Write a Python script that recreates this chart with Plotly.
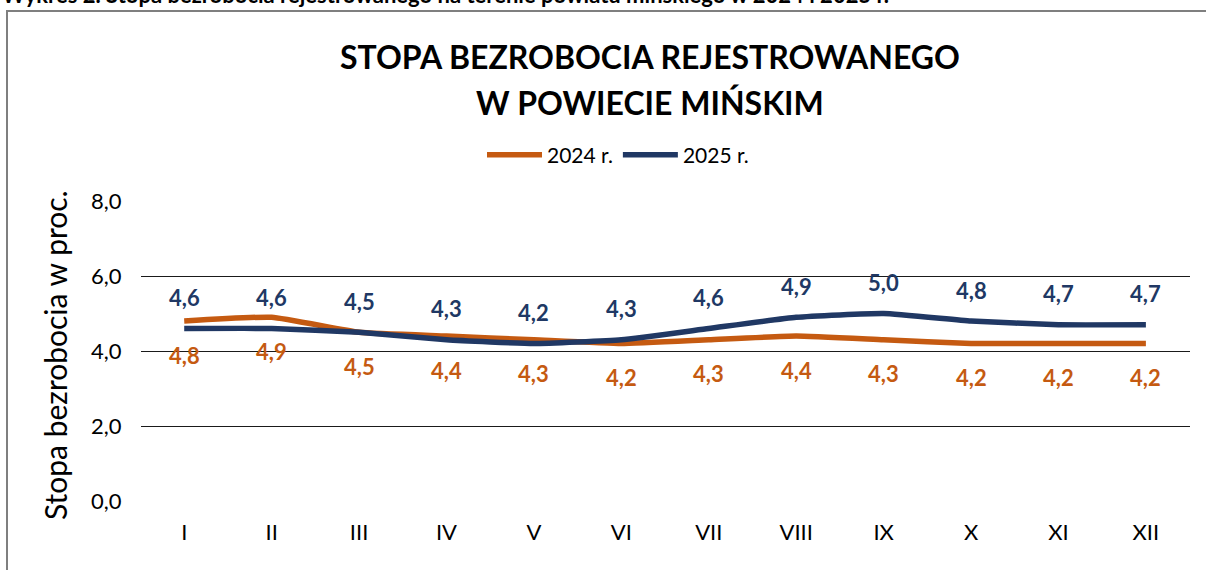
import plotly.graph_objects as go

months = ["I", "II", "III", "IV", "V", "VI", "VII", "VIII", "IX", "X", "XI", "XII"]
rate_2024 = [4.8, 4.9, 4.5, 4.4, 4.3, 4.2, 4.3, 4.4, 4.3, 4.2, 4.2, 4.2]
rate_2025 = [4.6, 4.6, 4.5, 4.3, 4.2, 4.3, 4.6, 4.9, 5.0, 4.8, 4.7, 4.7]
y_ticks = [0, 2, 4, 6, 8]

W, H = 1206, 570
C24 = "#C55A11"
C25 = "#203864"
FONT = "Lato"

def px_x(p):
    return p / W

def px_y(p):
    return 1 - p / H

fig = go.Figure()
fig.add_trace(go.Scatter(x=months, y=rate_2024, name="2024 r.", mode="lines",
                         line=dict(color=C24, width=5.5, shape="spline", smoothing=0.4)))
fig.add_trace(go.Scatter(x=months, y=rate_2025, name="2025 r.", mode="lines",
                         line=dict(color=C25, width=5.5, shape="spline", smoothing=0.4)))

annotations = []
for m, v in zip(months, rate_2025):
    annotations.append(dict(x=m, y=v, xref="x", yref="y", text=f"{v:.1f}".replace(".", ","),
                            showarrow=False, yshift=31, xanchor="center", yanchor="middle",
                            font=dict(family=FONT, size=22, color=C25, weight="bold")))
for m, v in zip(months, rate_2024):
    annotations.append(dict(x=m, y=v, xref="x", yref="y", text=f"{v:.1f}".replace(".", ","),
                            showarrow=False, yshift=-34, xanchor="center", yanchor="middle",
                            font=dict(family=FONT, size=22, color=C24, weight="bold")))

annotations.append(dict(x=px_x(650), y=px_y(57), xref="paper", yref="paper",
                        xanchor="center", yanchor="middle",
                        text="STOPA BEZROBOCIA REJESTROWANEGO", showarrow=False,
                        font=dict(family=FONT, size=32, color="#000", weight="bold")))
annotations.append(dict(x=px_x(650), y=px_y(102), xref="paper", yref="paper",
                        xanchor="center", yanchor="middle",
                        text="W POWIECIE MIŃSKIM", showarrow=False,
                        font=dict(family=FONT, size=32, color="#000", weight="bold")))
annotations.append(dict(x=px_x(55), y=px_y(355), xref="paper", yref="paper",
                        xanchor="center", yanchor="middle",
                        text="Stopa bezrobocia w proc.", showarrow=False, textangle=-90,
                        font=dict(family=FONT, size=30, color="#000")))
annotations.append(dict(x=0, y=px_y(10), xref="paper", yref="paper", xanchor="left",
                        yanchor="bottom",
                        text="Wykres 2. Stopa bezrobocia rejestrowanego na terenie powiatu mińskiego w 2024 i 2025 r.",
                        showarrow=False,
                        font=dict(family=FONT, size=22, color="#000", weight="bold")))

fig.update_layout(
    width=W, height=H,
    margin=dict(l=0, r=0, t=0, b=0, autoexpand=False),
    paper_bgcolor="white", plot_bgcolor="white",
    separators=", ",
    font=dict(family=FONT, color="#000"),
    showlegend=True,
    legend=dict(orientation="h", x=px_x(618), y=px_y(155), xanchor="center", yanchor="middle",
                font=dict(family=FONT, size=21, color="#000"), itemwidth=55,
                bgcolor="rgba(0,0,0,0)"),
    xaxis=dict(type="category", domain=[px_x(140.5), px_x(1189.6)], range=[-0.5, 11.5],
               showgrid=False, zeroline=False, showline=False, ticks="", automargin=False,
               tickfont=dict(family=FONT, size=22, color="#000"), ticklabelstandoff=16),
    yaxis=dict(domain=[px_y(501), px_y(201)], range=[0, 8], tickvals=y_ticks,
               tickformat=".1f", showgrid=True, gridcolor="#1a1a1a", gridwidth=1,
               zeroline=False, showline=False, ticks="", automargin=False,
               tickfont=dict(family=FONT, size=22, color="#000"), ticklabelstandoff=18),
    annotations=annotations,
    shapes=[dict(type="rect", xref="paper", yref="paper",
                 x0=px_x(7), x1=1.01, y0=-0.01, y1=px_y(11),
                 line=dict(color="#7f7f7f", width=2), layer="below")],
)

fig.write_html("out.html", config={"displayModeBar": False},
               post_script="document.body.style.margin='0';document.body.style.overflow='hidden';")
